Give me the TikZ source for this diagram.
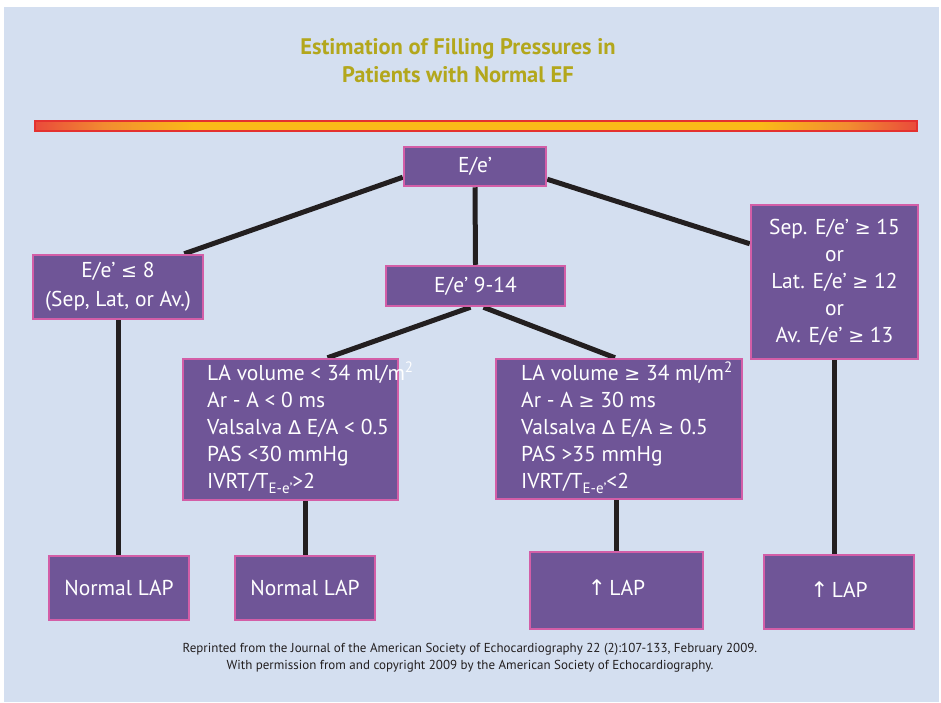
\documentclass[tikz,border=0pt]{standalone}
\usepackage{fontspec}
\setmainfont{PT Sans}
\newfontfamily\symf{DejaVu Sans}
\usetikzlibrary{calc}

\definecolor{pagebg}{HTML}{D4DFF0}
\definecolor{boxfill}{HTML}{6F5597}
\definecolor{boxline}{HTML}{D35EA7}
\definecolor{connline}{HTML}{231F20}
\definecolor{titlecol}{HTML}{B3A71C}
\definecolor{barred}{HTML}{E4312F}
\definecolor{barend}{HTML}{E94A3B}
\definecolor{barorange}{HTML}{F28D30}
\definecolor{baryellow}{HTML}{FBBA18}

% red at both ends, yellow across the middle (path spans 25bp..75bp)
\pgfdeclarehorizontalshading{barshade}{100bp}{
  color(0bp)=(barend);
  color(25bp)=(barend);
  color(29bp)=(barorange);
  color(34bp)=(baryellow);
  color(66bp)=(baryellow);
  color(71bp)=(barorange);
  color(75bp)=(barend);
  color(100bp)=(barend)}

\newcommand{\mygeq}{{\symf\fontsize{19}{19}\selectfont ≥}}
\newcommand{\myleq}{{\symf\fontsize{19}{19}\selectfont ≤}}
\newcommand{\mydelta}{{\symf\fontsize{19}{19}\selectfont Δ}}
\newcommand{\myup}{{\symf ↑}}
\newcommand{\sq}{\raisebox{0.75ex}{\fontsize{15}{15}\selectfont 2}}
\newcommand{\subEe}{\raisebox{-0.45ex}{\fontsize{15}{15}\selectfont E-e’}}

\pgfdeclarelayer{back}
\pgfdeclarelayer{links}
\pgfsetlayers{back,links,main}

\tikzset{
  box/.style={draw=boxline, line width=2.5pt, fill=boxfill, text=white,
    font=\fontsize{21.5}{27}\selectfont, inner sep=0pt, align=center},
  boxtext/.style={text=white, font=\fontsize{21.5}{27}\selectfont,
    inner sep=0pt, align=left, anchor=west},
  conn/.style={draw=connline, line width=5pt},
}

\begin{document}
\begin{tikzpicture}[x=1pt,y=-1pt]
\useasboundingbox (0,0) rectangle (941,702);

% page background
\begin{pgfonlayer}{back}
  \fill[white] (0,0) rectangle (941,702);
  \fill[pagebg] (4,7) rectangle (939,702);
\end{pgfonlayer}

% title
\node[text=titlecol, font=\bfseries\fontsize{22.5}{28}\selectfont,
  align=center] (title) at (458,61) {Estimation of Filling Pressures in\\Patients with Normal EF};

% gradient bar
\shade[shading=barshade] (35,121) rectangle (917,131);
\draw[barred, line width=1.5pt] (35,121) rectangle (917,131);

% decision boxes
\node[box, minimum width=142, minimum height=39] (top) at (475,166.5) {E/e’};
\node[box, minimum width=170, minimum height=64, font=\fontsize{21.5}{29}\selectfont]
  (left) at (118,287) {E/e’ \myleq\ 8\\(Sep, Lat, or Av.)};
\node[box, minimum width=179, minimum height=40] (mid) at (475.5,286) {E/e’ 9-14};
\node[box, minimum width=167, minimum height=154] (right) at (834.5,282)
  {Sep. E/e’ \mygeq\ 15\\or\\Lat. E/e’ \mygeq\ 12\\or\\Av. E/e’ \mygeq\ 13};

\node[box, minimum width=215, minimum height=141] (lalow) at (290.5,429.5) {};
\node[boxtext] (lalowtext) at (207,428)
  {LA volume < 34 ml/m\sq\\Ar - A < 0 ms\\Valsalva \mydelta\ E/A < 0.5\\PAS <30 mmHg\\IVRT/T\subEe>2};
\node[box, minimum width=246, minimum height=140] (lahigh) at (619,429) {};
\node[boxtext] (lahightext) at (521,428)
  {LA volume \mygeq\ 34 ml/m\sq\\Ar - A \mygeq\ 30 ms\\Valsalva \mydelta\ E/A \mygeq\ 0.5\\PAS >35 mmHg\\IVRT/T\subEe<2};

% outcome boxes
\node[box, minimum width=140, minimum height=64] (n1) at (119,588) {Normal LAP};
\node[box, minimum width=140, minimum height=64] (n2) at (305,588) {Normal LAP};
\node[box, minimum width=173, minimum height=77] (n3) at (616.5,590.5) {\raisebox{5pt}{\myup\,LAP}};
\node[box, minimum width=150, minimum height=74] (n4) at (839,592) {\raisebox{5pt}{\myup\,LAP}};

% connectors
\begin{pgfonlayer}{links}
  \draw[conn] ($(top.south west)+(0,-10)$) -- ($(left.north east)+(-20,0)$);
  \draw[conn] ($(top.south east)+(0,-8)$) -- ($(right.north west)+(0,40)$);
  \draw[conn] (top.south) -- (mid.north);
  \draw[conn] ($(mid.south)+(-5,0)$) -- ($(lalow.north)+(37,0)$);
  \draw[conn] ($(mid.south)+(8,0)$) -- ($(lahigh.north)+(-4,0)$);
  \draw[conn] (left.south) -- (left.south |- n1.north);
  \draw[conn] (n2.north |- lalow.south) -- (n2.north);
  \draw[conn] (n3.north |- lahigh.south) -- (n3.north);
  \draw[conn] (right.south) -- (right.south |- n4.north);
\end{pgfonlayer}

% source note
\node[text=connline, font=\fontsize{13}{17}\selectfont, align=center] (note) at (470,658)
  {Reprinted from the Journal of the American Society of Echocardiography 22 (2):107-133, February 2009.\\
   With permission from and copyright 2009 by the American Society of Echocardiography.};
\end{tikzpicture}
\end{document}
